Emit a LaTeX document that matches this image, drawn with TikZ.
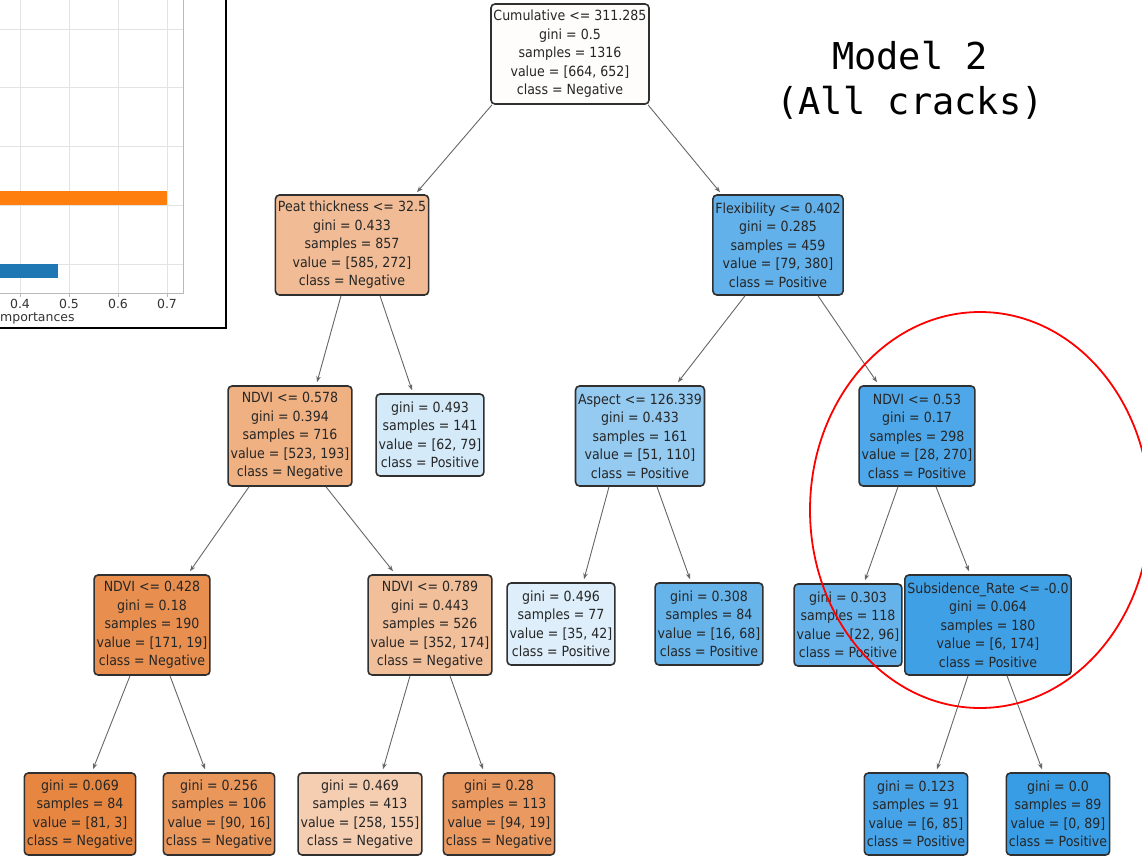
\documentclass[tikz,border=0pt]{standalone}
\usepackage{fontspec}
\setmainfont{DejaVu Sans Condensed}
\newfontfamily\titlefont{DejaVu Sans Mono}
\newfontfamily\axisfont{DejaVu Sans}
\usetikzlibrary{arrows.meta,calc}
\definecolor{nb}{HTML}{303030}
\definecolor{tc}{HTML}{262626}
\definecolor{cRoot}{RGB}{255,253,251}
\definecolor{cPeat}{RGB}{241,188,149}
\definecolor{cFlex}{RGB}{98,177,234}
\definecolor{cNa}{RGB}{239,176,130}
\definecolor{cGa}{RGB}{212,234,249}
\definecolor{cAsp}{RGB}{149,202,241}
\definecolor{cNb}{RGB}{78,167,232}
\definecolor{cNc}{RGB}{232,143,79}
\definecolor{cNd}{RGB}{242,191,155}
\definecolor{cGb}{RGB}{222,239,251}
\definecolor{cGc}{RGB}{103,180,235}
\definecolor{cGd}{RGB}{102,179,235}
\definecolor{cSub}{RGB}{64,160,230}
\definecolor{cLa}{RGB}{230,134,64}
\definecolor{cLb}{RGB}{234,151,92}
\definecolor{cLc}{RGB}{245,205,176}
\definecolor{cLd}{RGB}{234,154,97}
\definecolor{cLe}{RGB}{71,163,231}
\definecolor{cLf}{RGB}{57,157,229}
\definecolor{barorange}{HTML}{FF7F0E}
\definecolor{barblue}{HTML}{1F77B4}
\begin{document}
\begin{tikzpicture}[x=1pt,y=-1pt,
  tn/.style={draw=nb, line width=1.6pt, rounded corners=4pt, align=center,
    font=\fontsize{14}{18.5}\selectfont, text=tc, inner xsep=2.5pt, inner ysep=2pt},
  inner/.style={tn, minimum height=100pt},
  leaf/.style={tn, minimum height=82pt},
  edge/.style={draw=gray!80!black, line width=0.9pt, -{Stealth[length=6pt,width=4.5pt]}},
  gridl/.style={draw=gray!22, line width=0.8pt},
  ticklab/.style={font=\axisfont\fontsize{12.5}{14}\selectfont, text=black!80}]
\useasboundingbox (0,0) rectangle (1142,857);
\clip (0,0) rectangle (1142,857);

% ---------- inset chart ----------
\foreach \gx in {20,69,118,167} \draw[gridl] (\gx,0) -- (\gx,293);
\foreach \gy in {29,87,146,205,264} \draw[gridl] (0,\gy) -- (183,\gy);
\fill[barorange] (0,191) rectangle (167,205);
\fill[barblue] (0,264) rectangle (58,278);
\draw[gray!55, line width=0.8pt] (183,0) -- (183,293) -- (0,293);
\foreach \gx/\lab in {20/0.4,69/0.5,118/0.6,167/0.7} {
  \draw[gray!55, line width=0.8pt] (\gx,293) -- (\gx,297);
  \node[ticklab] at (\gx,304) {\lab};
}
\node[ticklab, anchor=west, inner sep=0pt] at (0,318) {mportances};
\draw[black, line width=1.5pt] (-10,-10) rectangle (226,328);

% ---------- title ----------
\node[font=\titlefont\fontsize{37}{45}\selectfont, align=center] (title) at (910,80) {Model 2\\(All cracks)};

% ---------- tree nodes ----------
\node[inner, fill=cRoot] (root) at (570,54) {Cumulative <= 311.285\\gini = 0.5\\samples = 1316\\value = [664, 652]\\class = Negative};
\node[inner, fill=cPeat] (peat) at (352,245) {Peat thickness <= 32.5\\gini = 0.433\\samples = 857\\value = [585, 272]\\class = Negative};
\node[inner, fill=cFlex] (flex) at (778,245) {Flexibility <= 0.402\\gini = 0.285\\samples = 459\\value = [79, 380]\\class = Positive};
\node[inner, fill=cNa] (na) at (290,436) {NDVI <= 0.578\\gini = 0.394\\samples = 716\\value = [523, 193]\\class = Negative};
\node[leaf, fill=cGa] (ga) at (430,435) {gini = 0.493\\samples = 141\\value = [62, 79]\\class = Positive};
\node[inner, fill=cAsp] (asp) at (640,436) {Aspect <= 126.339\\gini = 0.433\\samples = 161\\value = [51, 110]\\class = Positive};
\node[inner, fill=cNb] (nb) at (917,436) {NDVI <= 0.53\\gini = 0.17\\samples = 298\\value = [28, 270]\\class = Positive};
\node[inner, fill=cNc] (nc) at (152,625) {NDVI <= 0.428\\gini = 0.18\\samples = 190\\value = [171, 19]\\class = Negative};
\node[inner, fill=cNd] (nd) at (430,625) {NDVI <= 0.789\\gini = 0.443\\samples = 526\\value = [352, 174]\\class = Negative};
\node[leaf, fill=cGb] (gb) at (561,624) {gini = 0.496\\samples = 77\\value = [35, 42]\\class = Positive};
\node[leaf, fill=cGc] (gc) at (709,624) {gini = 0.308\\samples = 84\\value = [16, 68]\\class = Positive};
\node[leaf, fill=cGd] (gd) at (848,625) {gini = 0.303\\samples = 118\\value = [22, 96]\\class = Positive};
\node[inner, fill=cSub] (sub) at (988,625) {Subsidence\_Rate <= -0.0\\gini = 0.064\\samples = 180\\value = [6, 174]\\class = Positive};
\node[leaf, fill=cLa] (la) at (80,814) {gini = 0.069\\samples = 84\\value = [81, 3]\\class = Negative};
\node[leaf, fill=cLb] (lb) at (219,814) {gini = 0.256\\samples = 106\\value = [90, 16]\\class = Negative};
\node[leaf, fill=cLc] (lc) at (360,814) {gini = 0.469\\samples = 413\\value = [258, 155]\\class = Negative};
\node[leaf, fill=cLd] (ld) at (499,814) {gini = 0.28\\samples = 113\\value = [94, 19]\\class = Negative};
\node[leaf, fill=cLe] (le) at (916,814) {gini = 0.123\\samples = 91\\value = [6, 85]\\class = Positive};
\node[leaf, fill=cLf] (lf) at (1058,814) {gini = 0.0\\samples = 89\\value = [0, 89]\\class = Positive};

% ---------- edges ----------
\draw[edge] ($(root.south)+(-78,0)$) -- ($(peat.north)+(65,-2)$);
\draw[edge] ($(root.south)+(78,0)$) -- ($(flex.north)+(-58,-2)$);
\draw[edge] ($(peat.south)+(-11,0)$) -- ($(na.north)+(27,-3)$);
\draw[edge] ($(peat.south)+(28,0)$) -- ($(ga.north)+(-18,-3)$);
\draw[edge] ($(flex.south)+(-33,0)$) -- ($(asp.north)+(38,-3)$);
\draw[edge] ($(flex.south)+(40,0)$) -- ($(nb.north)+(-40,-3)$);
\draw[edge] ($(na.south)+(-41,0)$) -- ($(nc.north)+(38,-3)$);
\draw[edge] ($(na.south)+(36,0)$) -- ($(nd.north)+(-37,-3)$);
\draw[edge] ($(asp.south)+(-31,0)$) -- ($(gb.north)+(23,-3)$);
\draw[edge] ($(asp.south)+(17,0)$) -- ($(gc.north)+(-19,-3)$);
\draw[edge] ($(nb.south)+(-19,0)$) -- ($(gd.north)+(17,-3)$);
\draw[edge] ($(nb.south)+(19,0)$) -- ($(sub.north)+(-19,-3)$);
\draw[edge] ($(nc.south)+(-22,0)$) -- ($(la.north)+(13,-3)$);
\draw[edge] ($(nc.south)+(18,0)$) -- ($(lb.north)+(-14,-3)$);
\draw[edge] ($(nd.south)+(-20,0)$) -- ($(lc.north)+(23,-3)$);
\draw[edge] ($(nd.south)+(20,0)$) -- ($(ld.north)+(-16,-3)$);
\draw[edge] ($(sub.south)+(-20,0)$) -- ($(le.north)+(21,-3)$);
\draw[edge] ($(sub.south)+(19,0)$) -- ($(lf.north)+(-16,-3)$);

% ---------- red highlight ----------
\draw[red, line width=1.8pt] (980,510) ellipse [x radius=170pt, y radius=198pt];
\end{tikzpicture}
\end{document}
